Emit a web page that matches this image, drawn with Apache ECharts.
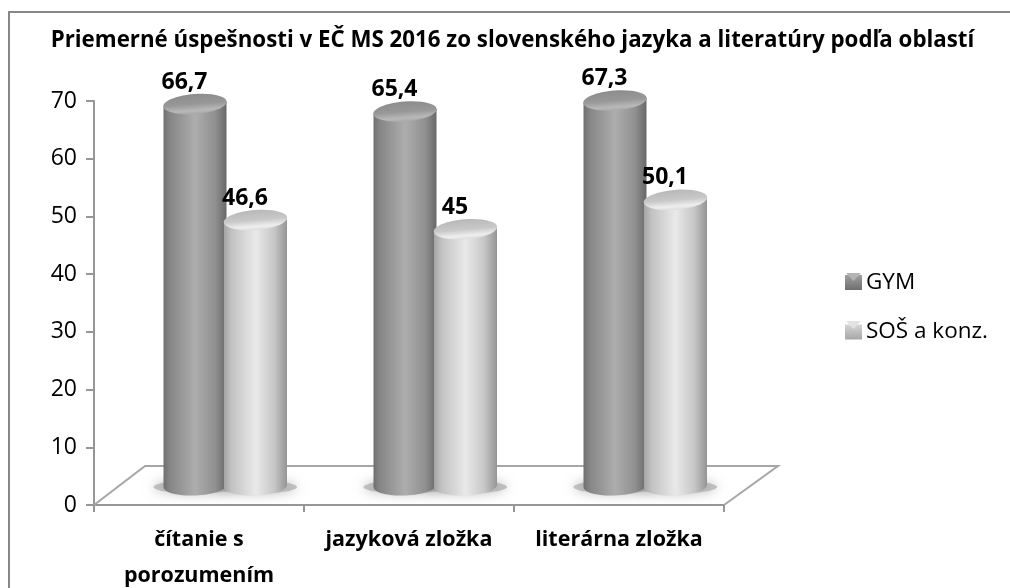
<!DOCTYPE html>
<html><head><meta charset="utf-8">
<style>html,body{margin:0;padding:0;background:#fff}#c{width:1010px;height:588px}</style>
<script src="https://cdn.jsdelivr.net/npm/echarts@6/dist/echarts.min.js"></script>
</head><body><div id="c"></div>
<script>
const chartTitle = 'Priemerné úspešnosti v EČ MS 2016 zo slovenského jazyka a literatúry podľa oblastí';
const categories = ['čítanie s\nporozumením', 'jazyková zložka', 'literárna zložka'];
const gymValues = [66.7, 65.4, 67.3];
const sosValues = [46.6, 45, 50.1];
const seriesNames = ['GYM', 'SOŠ a konz.'];

const FONT = '"Open Sans", Lato, sans-serif';
const DEPTH_X = 51, DEPTH_Y = 39;
const RX = 31.5, RY = 10, TILT = 0.08;
const grad = (stops, vertical) => ({
  type: 'linear', x: 0, y: 0, x2: vertical ? 0 : 1, y2: vertical ? 1 : 0,
  colorStops: stops.map(s => ({ offset: s[0], color: s[1] }))
});
const gymBody = grad([[0,'#6f6f6f'],[0.1,'#868686'],[0.5,'#adadad'],[0.82,'#909090'],[1,'#686868']]);
const gymTop = grad([[0,'#8c8c8c'],[0.5,'#989898'],[0.82,'#b8b8b8'],[1,'#a8a8a8']], true);
const sosBody = grad([[0,'#a4a4a4'],[0.12,'#c2c2c2'],[0.5,'#e9e9e9'],[0.8,'#c6c6c6'],[1,'#949494']]);
const sosTop = grad([[0,'#b8b8b8'],[0.5,'#c8c8c8'],[0.82,'#eeeeee'],[1,'#dcdcdc']], true);
const gymLegend = grad([[0,'#a0a0a0'],[1,'#6e6e6e']], true);
const sosLegend = grad([[0,'#d6d6d6'],[1,'#a6a6a6']], true);

function cylinder(offsetFrac, body, top) {
  return function (params, api) {
    const p = api.coord([api.value(0), api.value(1)]);
    const base = api.coord([api.value(0), 0]);
    const band = api.size([1, 0])[0];
    const cx = p[0] + offsetFrac * band;
    const topY = p[1] - 16, baseY = base[1] - 19;
    const lift = RX * Math.sin(TILT);
    return { type: 'group', children: [
      { type: 'ellipse', shape: { cx: cx, cy: baseY, rx: RX, ry: 9.5 }, rotation: 0.04, originX: cx, originY: baseY, style: { fill: body } },
      { type: 'polygon', shape: { points: [[cx - RX, topY + lift], [cx + RX, topY - lift], [cx + RX, baseY], [cx - RX, baseY]] }, style: { fill: body } },
      { type: 'ellipse', shape: { cx: cx, cy: topY, rx: RX + 0.3, ry: RY }, rotation: TILT, originX: cx, originY: topY, style: { fill: top } },
      { type: 'text', x: cx - 10.5, y: topY - 22, style: {
          text: String(api.value(1)).replace('.', ','), font: 'bold 23px ' + FONT,
          fill: '#000', align: 'center', verticalAlign: 'middle' } }
    ] };
  };
}
function shadow(offsetFrac) {
  return function (params, api) {
    const base = api.coord([api.value(0), 0]);
    const cx = base[0] + offsetFrac * api.size([1, 0])[0];
    return { type: 'ellipse', shape: { cx: cx, cy: base[1] - 18, rx: RX + 10, ry: 6.5 },
      style: { fill: 'rgba(160,160,160,0.6)', shadowBlur: 12, shadowColor: 'rgba(130,130,130,0.9)' } };
  };
}
function floor(params, api) {
  const band = api.size([1, 0])[0];
  const a = api.coord([0, 0]), b = api.coord([categories.length - 1, 0]);
  const l = a[0] - band / 2, r = b[0] + band / 2, y = a[1];
  return { type: 'polyline', shape: { points: [[l, y], [l + DEPTH_X, y - DEPTH_Y], [r + DEPTH_X + 3, y - DEPTH_Y], [r, y]] },
    style: { fill: 'none', stroke: '#a6a6a6', lineWidth: 2 } };
}
const pairs = arr => arr.map((v, i) => [i, v]);
const GYM_OFF = -4 / 210, SOS_OFF = 56.5 / 210;
const chart = echarts.init(document.getElementById('c'), null, { renderer: 'canvas' });
const bevel = (y, fill) => ({ type: 'polygon', silent: true, z: 100, shape: { points: [[846, y], [861, y], [853.5, y + 8]] }, style: { fill: fill } });
chart.setOption({
  animation: false,
  backgroundColor: '#fff',
  title: { text: chartTitle, left: 507.5, top: 25, textAlign: 'center',
    textStyle: { fontFamily: FONT, fontWeight: 'bold', fontSize: 22.3, color: '#000' } },
  legend: { data: seriesNames, orient: 'vertical', left: 840, top: 266, itemWidth: 17, itemHeight: 15, itemGap: 26.5, icon: 'rect',
    selectedMode: false, textStyle: { fontFamily: FONT, fontSize: 22.5, color: '#000', padding: [0, 0, 0, -1] } },
  grid: { left: 94, right: 286, top: 101, bottom: 83, outerBoundsMode: 'none' },
  xAxis: { type: 'category', data: categories,
    axisLine: { lineStyle: { color: '#969696', width: 2 } },
    axisTick: { show: true, alignWithLabel: false, length: 7, lineStyle: { color: '#969696', width: 2 } },
    axisLabel: { interval: 0, fontFamily: FONT, fontWeight: 'bold', fontSize: 21.5, color: '#000', margin: 17, lineHeight: 36 } },
  yAxis: { type: 'value', min: 0, max: 70, interval: 10,
    splitLine: { show: false },
    axisLine: { show: true, lineStyle: { color: '#969696', width: 2 } },
    axisTick: { show: true, length: 8, lineStyle: { color: '#969696', width: 2 } },
    axisLabel: { fontFamily: FONT, fontSize: 23, color: '#000', margin: 17, padding: [7, 0, 0, 0] } },
  series: [
    { type: 'custom', name: 'floor', z: 1, silent: true, data: [[0, 0]], renderItem: floor, encode: { x: 0, y: 1 } },
    { type: 'custom', name: 'shadowA', z: 2, silent: true, data: pairs(gymValues), renderItem: shadow(GYM_OFF), encode: { x: 0, y: 1 } },
    { type: 'custom', name: 'shadowB', z: 2, silent: true, data: pairs(sosValues), renderItem: shadow(SOS_OFF), encode: { x: 0, y: 1 } },
    { type: 'custom', name: seriesNames[0], z: 3, silent: true, itemStyle: { color: gymLegend }, data: pairs(gymValues), renderItem: cylinder(GYM_OFF, gymBody, gymTop), encode: { x: 0, y: 1 } },
    { type: 'custom', name: seriesNames[1], z: 4, silent: true, itemStyle: { color: sosLegend }, data: pairs(sosValues), renderItem: cylinder(SOS_OFF, sosBody, sosTop), encode: { x: 0, y: 1 } }
  ],
  graphic: [
    { type: 'polyline', silent: true, shape: { points: [[9, 600], [9, 12], [1020, 12]] }, style: { fill: 'none', stroke: '#868686', lineWidth: 2 } },
    bevel(273, '#b4b4b4'),
    bevel(321, '#e2e2e2')
  ]
});
</script></body></html>
